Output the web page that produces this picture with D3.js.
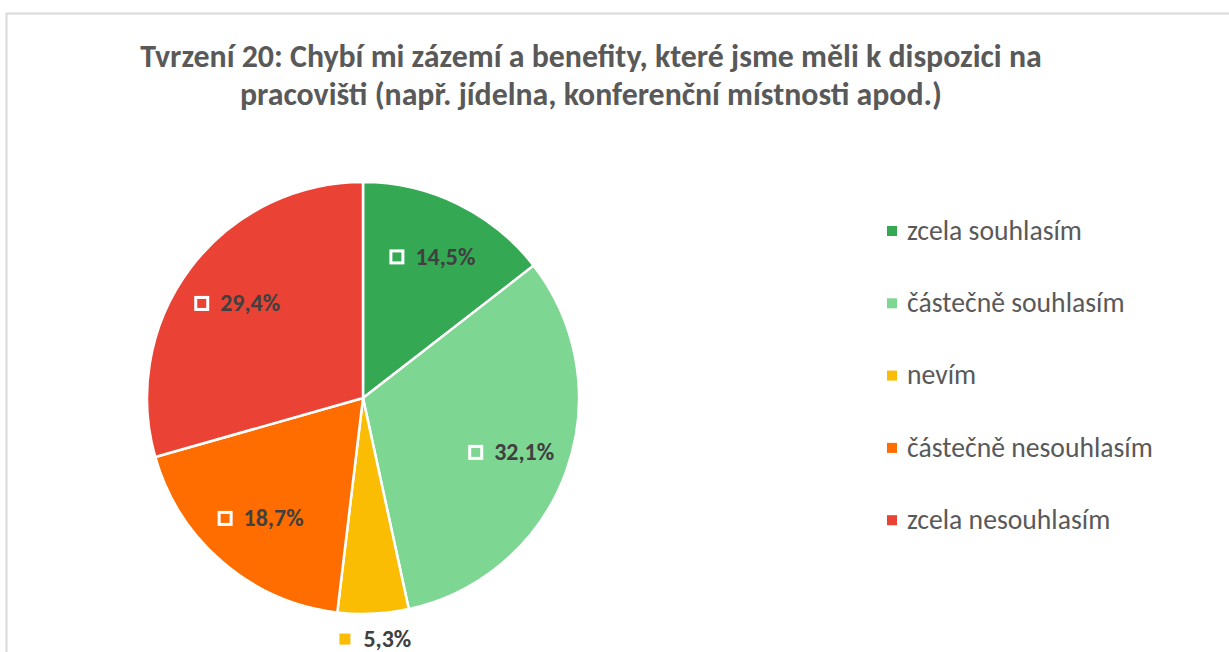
<!DOCTYPE html>
<html>
<head>
<meta charset="utf-8">
<script src="https://cdn.jsdelivr.net/npm/d3@7"></script>
<style>
  html, body { margin: 0; padding: 0; background: #fff; }
  svg { display: block; }
  text { font-family: Carlito, Calibri, "Open Sans", "Noto Sans", sans-serif; }
</style>
</head>
<body>
<script>
// Survey answers for statement 20 (shares in %)
const categories = ["zcela souhlasím", "částečně souhlasím", "nevím", "částečně nesouhlasím", "zcela nesouhlasím"];
const values = [14.5, 32.1, 5.3, 18.7, 29.4];
const colors = ["#34a853", "#7ed693", "#fbbc04", "#ff6d01", "#ea4335"];
const titleLines = [
  "Tvrzení 20: Chybí mi zázemí a benefity, které jsme měli k dispozici na",
  "pracovišti (např. jídelna, konferenční místnosti apod.)"
];

const W = 1229, H = 652;
const svg = d3.select("body").append("svg").attr("width", W).attr("height", H);

// returns the font size at which `str` spans `target` px
function fitSize(str, base, target, weight) {
  const t = svg.append("text").attr("font-size", base).attr("font-weight", weight).text(str);
  const w = t.node().getComputedTextLength();
  t.remove();
  return base * target / w;
}

// chart area frame
svg.append("rect")
  .attr("x", 6.5).attr("y", 13.5).attr("width", W + 20).attr("height", H + 20)
  .attr("fill", "#fff").attr("stroke", "#d9d9d9").attr("stroke-width", 2);

// title, each line fitted to its width
const titleWidths = [902, 702];
const titleG = svg.append("g");
titleLines.forEach((t, i) => {
  titleG.append("text")
    .attr("x", 591).attr("y", 67 + i * 38)
    .attr("text-anchor", "middle")
    .attr("font-weight", "bold").attr("font-size", fitSize(t, 25, titleWidths[i], "bold"))
    .attr("fill", "#595959").text(t);
});

// pie
const cx = 363, cy = 398, R = 216;
const pie = d3.pie().sort(null).value(d => d.v);
const arcs = pie(values.map((v, i) => ({ v, c: colors[i], name: categories[i] })));
const arc = d3.arc().innerRadius(0).outerRadius(R);
const g = svg.append("g").attr("transform", `translate(${cx},${cy})`);

g.selectAll("path").data(arcs).join("path")
  .attr("d", arc)
  .attr("fill", d => d.data.c)
  .attr("stroke", "#fff").attr("stroke-width", 2.5).attr("stroke-linejoin", "round");

// data labels: small key square + value
const fmt = v => v.toFixed(1).replace(".", ",") + "%";
const labelSize = fitSize("14,5%", 20, 60, "bold");
arcs.forEach(d => {
  const mid = (d.startAngle + d.endAngle) / 2;
  const outside = d.data.v < 8;
  const r = outside ? R * 1.115 : R * 0.73;
  const x = Math.sin(mid) * r, y = -Math.cos(mid) * r;
  const lg = g.append("g");
  const txt = lg.append("text")
    .attr("x", 26).attr("y", 0).attr("dy", "0.35em")
    .attr("font-weight", "bold").attr("font-size", labelSize)
    .attr("fill", "#404040").text(fmt(d.data.v));
  if (outside) {
    lg.append("rect").attr("x", 2).attr("y", -5).attr("width", 11).attr("height", 11)
      .attr("fill", d.data.c);
  } else {
    lg.append("rect").attr("x", 1.5).attr("y", -5.5).attr("width", 12).attr("height", 12)
      .attr("fill", "none").attr("stroke", "#fff").attr("stroke-width", 3);
  }
  const tw = 26 + txt.node().getComputedTextLength();
  lg.attr("transform", `translate(${x - tw / 2},${y})`);
});

// legend
const legendSize = fitSize("zcela souhlasím", 23, 175, "normal");
const legend = svg.append("g").attr("transform", "translate(887,230)");
categories.forEach((c, i) => {
  const row = legend.append("g").attr("transform", `translate(0,${i * 72.3})`);
  row.append("rect").attr("x", 0).attr("y", -4).attr("width", 10).attr("height", 10).attr("fill", colors[i]);
  row.append("text").attr("x", 20).attr("y", 0).attr("dy", "0.35em")
    .attr("font-size", legendSize).attr("fill", "#595959").text(c);
});
</script>
</body>
</html>
